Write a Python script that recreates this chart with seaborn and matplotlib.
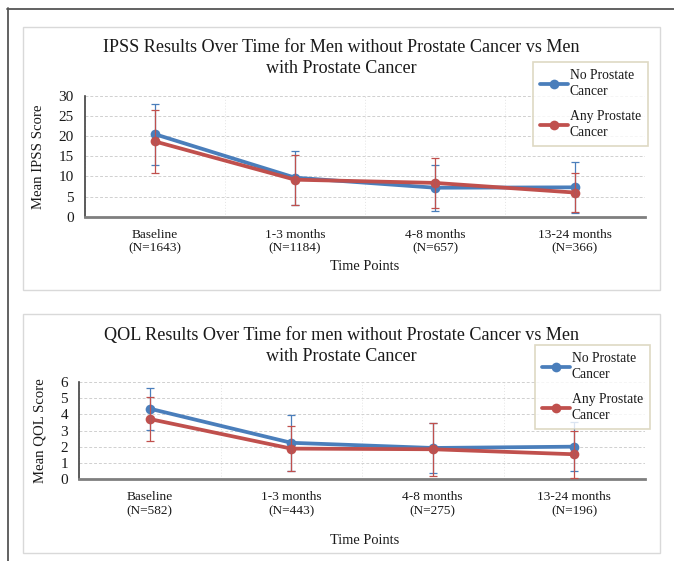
import numpy as np
import pandas as pd
import seaborn as sns
import matplotlib
matplotlib.use("Agg")
import matplotlib.pyplot as plt
from matplotlib.lines import Line2D

# ---------------- data ----------------
series_names = ["No Prostate Cancer", "Any Prostate Cancer"]
legend_labels = ["No Prostate\nCancer", "Any Prostate\nCancer"]

ipss_categories = ["Baseline\n(N=1643)", "1-3 months\n(N=1184)", "4-8 months\n(N=657)", "13-24 months\n(N=366)"]
ipss_no_mean = [20.5, 9.7, 7.2, 7.3]
ipss_no_sd = [7.6, 6.7, 5.7, 6.3]
ipss_any_mean = [18.7, 9.2, 8.4, 6.0]
ipss_any_sd = [7.9, 6.2, 6.2, 4.9]

qol_categories = ["Baseline\n(N=582)", "1-3 months\n(N=443)", "4-8 months\n(N=275)", "13-24 months\n(N=196)"]
qol_no_mean = [4.35, 2.24, 1.92, 2.00]
qol_no_sd = [1.30, 1.74, 1.55, 1.52]
qol_any_mean = [3.71, 1.88, 1.84, 1.53]
qol_any_sd = [1.38, 1.40, 1.63, 1.47]

ipss_title = "IPSS Results Over Time for Men without Prostate Cancer vs Men\nwith Prostate Cancer"
qol_title = "QOL Results Over Time for men without Prostate Cancer vs Men\nwith Prostate Cancer"

# ---------------- style ----------------
sns.set_theme(style="white")
plt.rcParams['font.family'] = ['Liberation Serif', 'DejaVu Serif']
BLUE = "#4A7EBB"
RED = "#C0504D"
TXT = "#1a1a1a"
W, H = 674, 561
fig = plt.figure(figsize=(W / 100, H / 100), dpi=100)
fig.patch.set_facecolor("white")

def fx(px):
    return px / W

def fy(py):
    return 1 - py / H

# outer frame (top and left lines)
fig.add_artist(Line2D([fx(7), fx(674)], [fy(8.5), fy(8.5)], color="#555555", lw=1.3, transform=fig.transFigure))
fig.add_artist(Line2D([fx(7.5), fx(7.5)], [fy(8), fy(561)], color="#555555", lw=1.3, transform=fig.transFigure))

# panel boxes
for (y0, y1) in [(27, 290), (314, 553)]:
    fig.add_artist(plt.Rectangle((fx(23), fy(y1)), fx(660) - fx(23), fy(y0) - fy(y1),
                                 fill=False, ec="#D9D9D9", lw=1.0, transform=fig.transFigure))


def draw_panel(rect, cats, nm, nsd, am, asd, ylim, yticks, ylabel, title, title_y, legend_xy, xlabel_y):
    ax = fig.add_axes(rect)
    x = np.arange(len(cats))
    df = pd.DataFrame({
        "x": np.concatenate([x, x]),
        "y": np.concatenate([nm, am]),
        "series": [series_names[0]] * len(x) + [series_names[1]] * len(x),
    })
    sns.lineplot(data=df, x="x", y="y", hue="series", palette=[BLUE, RED], marker="o",
                 markersize=7, markeredgewidth=0, linewidth=2.7, ax=ax, legend=False, zorder=3)
    ax.errorbar(x, nm, yerr=nsd, fmt="none", ecolor=BLUE, elinewidth=0.9, capsize=2.6, capthick=0.9, zorder=4)
    ax.errorbar(x, am, yerr=asd, fmt="none", ecolor=RED, elinewidth=0.9, capsize=2.6, capthick=0.9, zorder=4)

    ax.set_xlim(-0.5, len(cats) - 0.5)
    ax.set_ylim(*ylim)
    ax.set_yticks(yticks)
    ax.set_yticklabels([str(v) for v in yticks], fontsize=11, color=TXT)
    ax.set_xticks(x)
    ax.set_xticklabels(cats, fontsize=9.6, color=TXT, linespacing=1.15)
    ax.set_xticks(np.arange(-0.5, len(cats), 0.5), minor=True)
    ax.grid(axis="y", which="major", color="#D0D0D0", linestyle=(0, (3, 2)), lw=0.7)
    ax.grid(axis="x", which="minor", color="#E4E4E4", linestyle=(0, (1, 2)), lw=0.7)
    ax.grid(axis="x", which="major", visible=False)
    ax.tick_params(axis="x", which="minor", length=0)
    ax.tick_params(axis="x", which="major", length=3, width=1, color="#404040", direction="in", pad=9)
    ax.tick_params(axis="y", length=3, width=1, color="#404040", direction="in", pad=8)
    for s in ["top", "right"]:
        ax.spines[s].set_visible(False)
    ax.spines["left"].set_color("#404040")
    ax.spines["left"].set_linewidth(1.2)
    ax.spines["bottom"].set_color("#7F7F7F")
    ax.spines["bottom"].set_linewidth(2.0)
    ax.set_xlabel("")
    ax.set_ylabel(ylabel, fontsize=10.6, color=TXT, labelpad=10)
    ax.set_facecolor("white")

    fig.text(fx(341), fy(title_y), title, ha="center", va="center", fontsize=13.1, color=TXT, linespacing=1.3)
    fig.text(fx(365), fy(xlabel_y), "Time Points", ha="center", va="center", fontsize=10.4, color=TXT)

    handles = [Line2D([], [], color=BLUE, lw=2.7, marker="o", markersize=7, markeredgewidth=0),
               Line2D([], [], color=RED, lw=2.7, marker="o", markersize=7, markeredgewidth=0)]
    leg = fig.legend(handles, legend_labels, loc="upper left",
                     bbox_to_anchor=(fx(legend_xy[0]), fy(legend_xy[1])), bbox_transform=fig.transFigure,
                     fontsize=9.8, frameon=True, fancybox=False, handlelength=2.0, handletextpad=0.15,
                     labelspacing=0.9, borderpad=0.55, borderaxespad=0)
    leg.get_frame().set_edgecolor("#D6CFB5")
    leg.get_frame().set_linewidth(1.2)
    for t in leg.get_texts():
        t.set_color(TXT)
        t.set_linespacing(1.25)
    return ax


draw_panel([fx(85), fy(216.7), fx(645) - fx(85), fy(96) - fy(216.7)],
           ipss_categories, ipss_no_mean, ipss_no_sd, ipss_any_mean, ipss_any_sd,
           (0, 30), [0, 5, 10, 15, 20, 25, 30], "Mean IPSS Score", ipss_title, 58, (533, 62), 266)

draw_panel([fx(79), fy(479), fx(645) - fx(79), fy(382) - fy(479)],
           qol_categories, qol_no_mean, qol_no_sd, qol_any_mean, qol_any_sd,
           (0, 6), [0, 1, 2, 3, 4, 5, 6], "Mean QOL Score", qol_title, 346, (535, 345), 540)

fig.savefig("out.png", dpi=100, facecolor="white")
